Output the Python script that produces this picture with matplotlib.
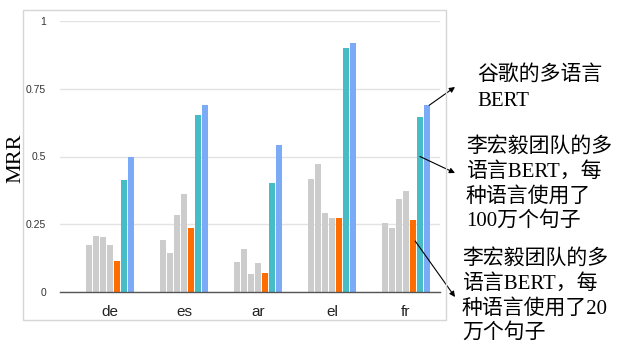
import matplotlib
matplotlib.use('Agg')
import matplotlib.pyplot as plt
from matplotlib.patches import Rectangle
import numpy as np

langs = ['de', 'es', 'ar', 'el', 'fr']
# 4 grey baselines, then the three highlighted models
gray1 = [0.173, 0.193, 0.111, 0.417, 0.256]
gray2 = [0.207, 0.143, 0.158, 0.473, 0.235]
gray3 = [0.202, 0.285, 0.068, 0.290, 0.344]
gray4 = [0.173, 0.363, 0.106, 0.274, 0.372]
li_20w = [0.114, 0.235, 0.069, 0.272, 0.267]
li_100w = [0.413, 0.653, 0.403, 0.899, 0.645]
google = [0.498, 0.691, 0.544, 0.919, 0.689]

series = [gray1, gray2, gray3, gray4, li_20w, li_100w, google]
colors = ['#cccccc', '#cccccc', '#cccccc', '#cccccc', '#ff6d01', '#46bdc6', '#7baaf7']

W, H = 627, 354
fig = plt.figure(figsize=(W / 100, H / 100), dpi=100)

# light frame around the chart
fig.patches.append(Rectangle((23 / W, 1 - 320 / H), 423 / W, 310 / H,
                             transform=fig.transFigure, fill=False,
                             edgecolor='#d6d6d6', linewidth=1))

ax = fig.add_axes([60 / W, 1 - 292 / H, 380 / W, 271 / H])

x = np.arange(len(langs))
slot = 0.0946
bw = 0.08
for i, (vals, c) in enumerate(zip(series, colors)):
    ax.bar(x + (i - 3) * slot, vals, width=bw, color=c, zorder=3, clip_on=False)

ax.set_xlim(-0.676, 4.46)
ax.set_ylim(0, 1)
ax.set_yticks([0, 0.25, 0.5, 0.75, 1])
ax.set_yticklabels(['0', '0.25', '0.5', '0.75', '1'], fontsize=7.5,
                   fontfamily='Liberation Sans', color='#333333')
ax.set_xticks(x)
ax.set_xticklabels(langs, fontsize=11, fontfamily='Liberation Sans', color='#222222')
ax.tick_params(axis='both', length=0)
ax.tick_params(axis='y', pad=10)
ax.tick_params(axis='x', pad=9)
ax.grid(axis='y', color='#e3e3e3', linewidth=1, zorder=0)
for s in ['top', 'right', 'left']:
    ax.spines[s].set_visible(False)
ax.spines['bottom'].set_color('#555555')
ax.spines['bottom'].set_linewidth(1)
ax.spines['bottom'].set_zorder(4)

fig.text(16 / W, 1 - 158 / H, 'MRR', rotation=90, ha='center', va='center',
         fontsize=16, fontfamily='Liberation Serif')

cjk = ['Liberation Serif', 'Noto Sans CJK SC']
fr = 4
arrow = dict(arrowstyle='-|>', color='black', lw=0.8, mutation_scale=8,
             shrinkA=0, shrinkB=0)
ax.annotate('', xy=(455 / W, 1 - 87 / H), xycoords='figure fraction',
            xytext=(fr + 3 * slot + 0.03, google[fr]), textcoords='data',
            arrowprops=arrow, annotation_clip=False)
ax.annotate('', xy=(455 / W, 1 - 173 / H), xycoords='figure fraction',
            xytext=(fr + 2 * slot, 0.5), textcoords='data',
            arrowprops=arrow, annotation_clip=False)
ax.annotate('', xy=(455 / W, 1 - 297 / H), xycoords='figure fraction',
            xytext=(fr + slot + 0.03, 0.188), textcoords='data',
            arrowprops=arrow, annotation_clip=False)

fig.text(477 / W, 1 - 65 / H, '谷歌的多语言\nBERT', ha='left', va='top',
         fontsize=15, family=cjk, linespacing=1.5)
fig.text(466 / W, 1 - 137 / H, '李宏毅团队的多\n语言BERT，每\n种语言使用了\n100万个句子',
         ha='left', va='top', fontsize=15, family=cjk, linespacing=1.33)
fig.text(462 / W, 1 - 249 / H, '李宏毅团队的多\n语言BERT，每\n种语言使用了20\n万个句子',
         ha='left', va='top', fontsize=15, family=cjk, linespacing=1.33)

fig.savefig('out.png', dpi=100)
